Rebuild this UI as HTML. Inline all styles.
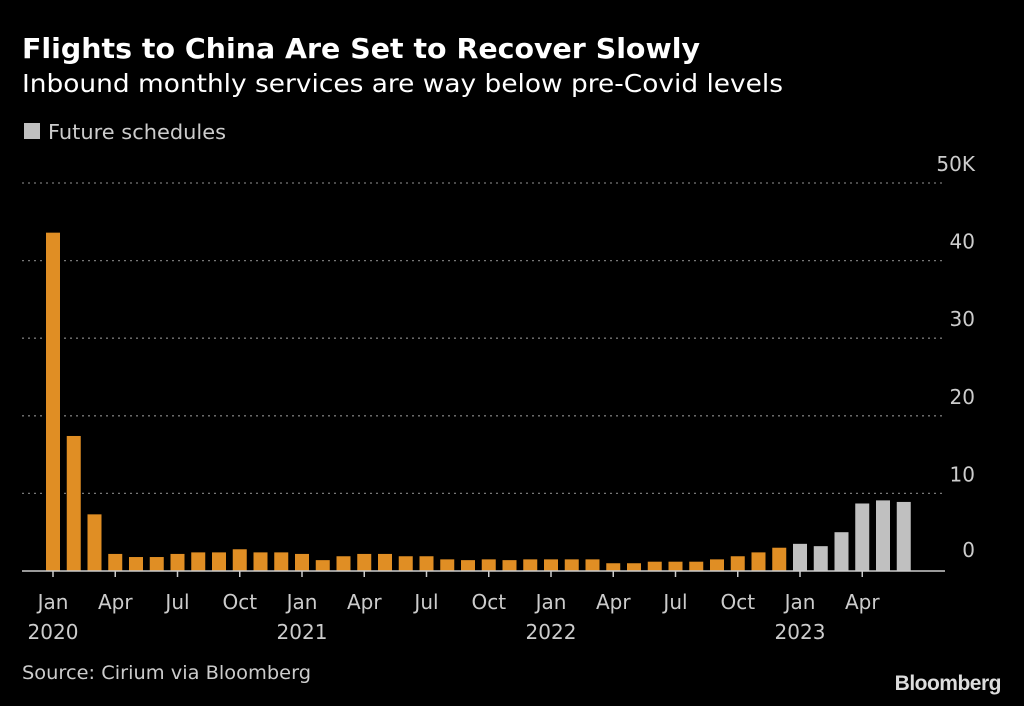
<!DOCTYPE html>
<html><head><meta charset="utf-8"><style>
body{margin:0;background:#000;width:1024px;height:702px;overflow:hidden;font-family:"DejaVu Sans",sans-serif;color:#fff}
</style></head><body>
<svg width="1024" height="702" font-family="DejaVu Sans, sans-serif">
<text x="22" y="58" font-size="28" font-weight="bold" fill="#fff" textLength="678" lengthAdjust="spacingAndGlyphs">Flights to China Are Set to Recover Slowly</text>
<text x="22" y="92" font-size="25" fill="#fff" textLength="761" lengthAdjust="spacingAndGlyphs">Inbound monthly services are way below pre-Covid levels</text>
<rect x="24" y="123" width="16" height="16" fill="#c0c0c0"/>
<text x="48" y="139" font-size="20" fill="#ccc" textLength="178" lengthAdjust="spacingAndGlyphs">Future schedules</text>
<g id="grid"></g><g id="bars"></g><g id="xaxis"></g>
<text x="22" y="679" font-size="19" fill="#ccc" textLength="289" lengthAdjust="spacingAndGlyphs">Source: Cirium via Bloomberg</text>
<text x="1001" y="690" font-size="21" font-weight="bold" fill="#ddd" text-anchor="end" letter-spacing="-0.5" font-family="Liberation Sans, sans-serif">Bloomberg</text>
</svg>
<script>
const values=[43.6,17.4,7.3,2.2,1.8,1.8,2.2,2.4,2.4,2.8,2.4,2.4,2.2,1.4,1.9,2.2,2.2,1.9,1.9,1.5,1.4,1.5,1.4,1.5,1.5,1.5,1.5,1.0,1.0,1.2,1.2,1.2,1.5,1.9,2.4,3.0,3.5,3.2,5.0,8.7,9.1,8.9];
const futureStart=36;
const yTicks=[0,10,20,30,40,50];
const yTickLabels=["0","10","20","30","40","50K"];
const xTickLabels=[["Jan","2020"],["Apr",""],["Jul",""],["Oct",""],["Jan","2021"],["Apr",""],["Jul",""],["Oct",""],["Jan","2022"],["Apr",""],["Jul",""],["Oct",""],["Jan","2023"],["Apr",""]];
const NS="http://www.w3.org/2000/svg";
const y0=571,pxPerK=7.76,x0=53,step=20.75,bw=14;
const Y=v=>y0-v*pxPerK, X=i=>x0+i*step;
const grid=document.getElementById('grid'),bars=document.getElementById('bars'),xa=document.getElementById('xaxis');
function mk(t,a,p){const e=document.createElementNS(NS,t);for(const k in a)e.setAttribute(k,a[k]);p.appendChild(e);return e;}
yTicks.forEach((v,i)=>{
 if(v>0){const l=mk('line',{x1:22,x2:945,y1:Y(v),y2:Y(v),stroke:'#777','stroke-width':1.3,'stroke-dasharray':'2,4'},grid);
 
 }
 const t=mk('text',{x:975,y:Y(v)-(v===0?14:12),'font-size':20,fill:'#ccc','text-anchor':'end'},grid);
 t.textContent=yTickLabels[i];
 
 
});
values.forEach((v,i)=>{
 const r=mk('rect',{x:X(i)-bw/2,y:Y(v),width:bw,height:v*pxPerK,fill:i>=futureStart?'#c0c0c0':'#e08e24'},bars);
 
 
});
const base=mk('line',{x1:22,x2:945,y1:y0,y2:y0,stroke:'#ccc','stroke-width':1.5},xa);


xTickLabels.forEach((lab,k)=>{
 const x=X(k*3);
 const tk=mk('line',{x1:x,x2:x,y1:y0,y2:y0+6,stroke:'#ccc','stroke-width':1.5},xa);
 
 
 const t=mk('text',{x:x,y:609,'font-size':20,fill:'#ccc','text-anchor':'middle'},xa);
 t.textContent=lab[0];
 
 
 if(lab[1]){const t2=mk('text',{x:x,y:639,'font-size':20,fill:'#ccc','text-anchor':'middle'},xa);
 t2.textContent=lab[1];
 
 }
});
</script>
</body></html>
